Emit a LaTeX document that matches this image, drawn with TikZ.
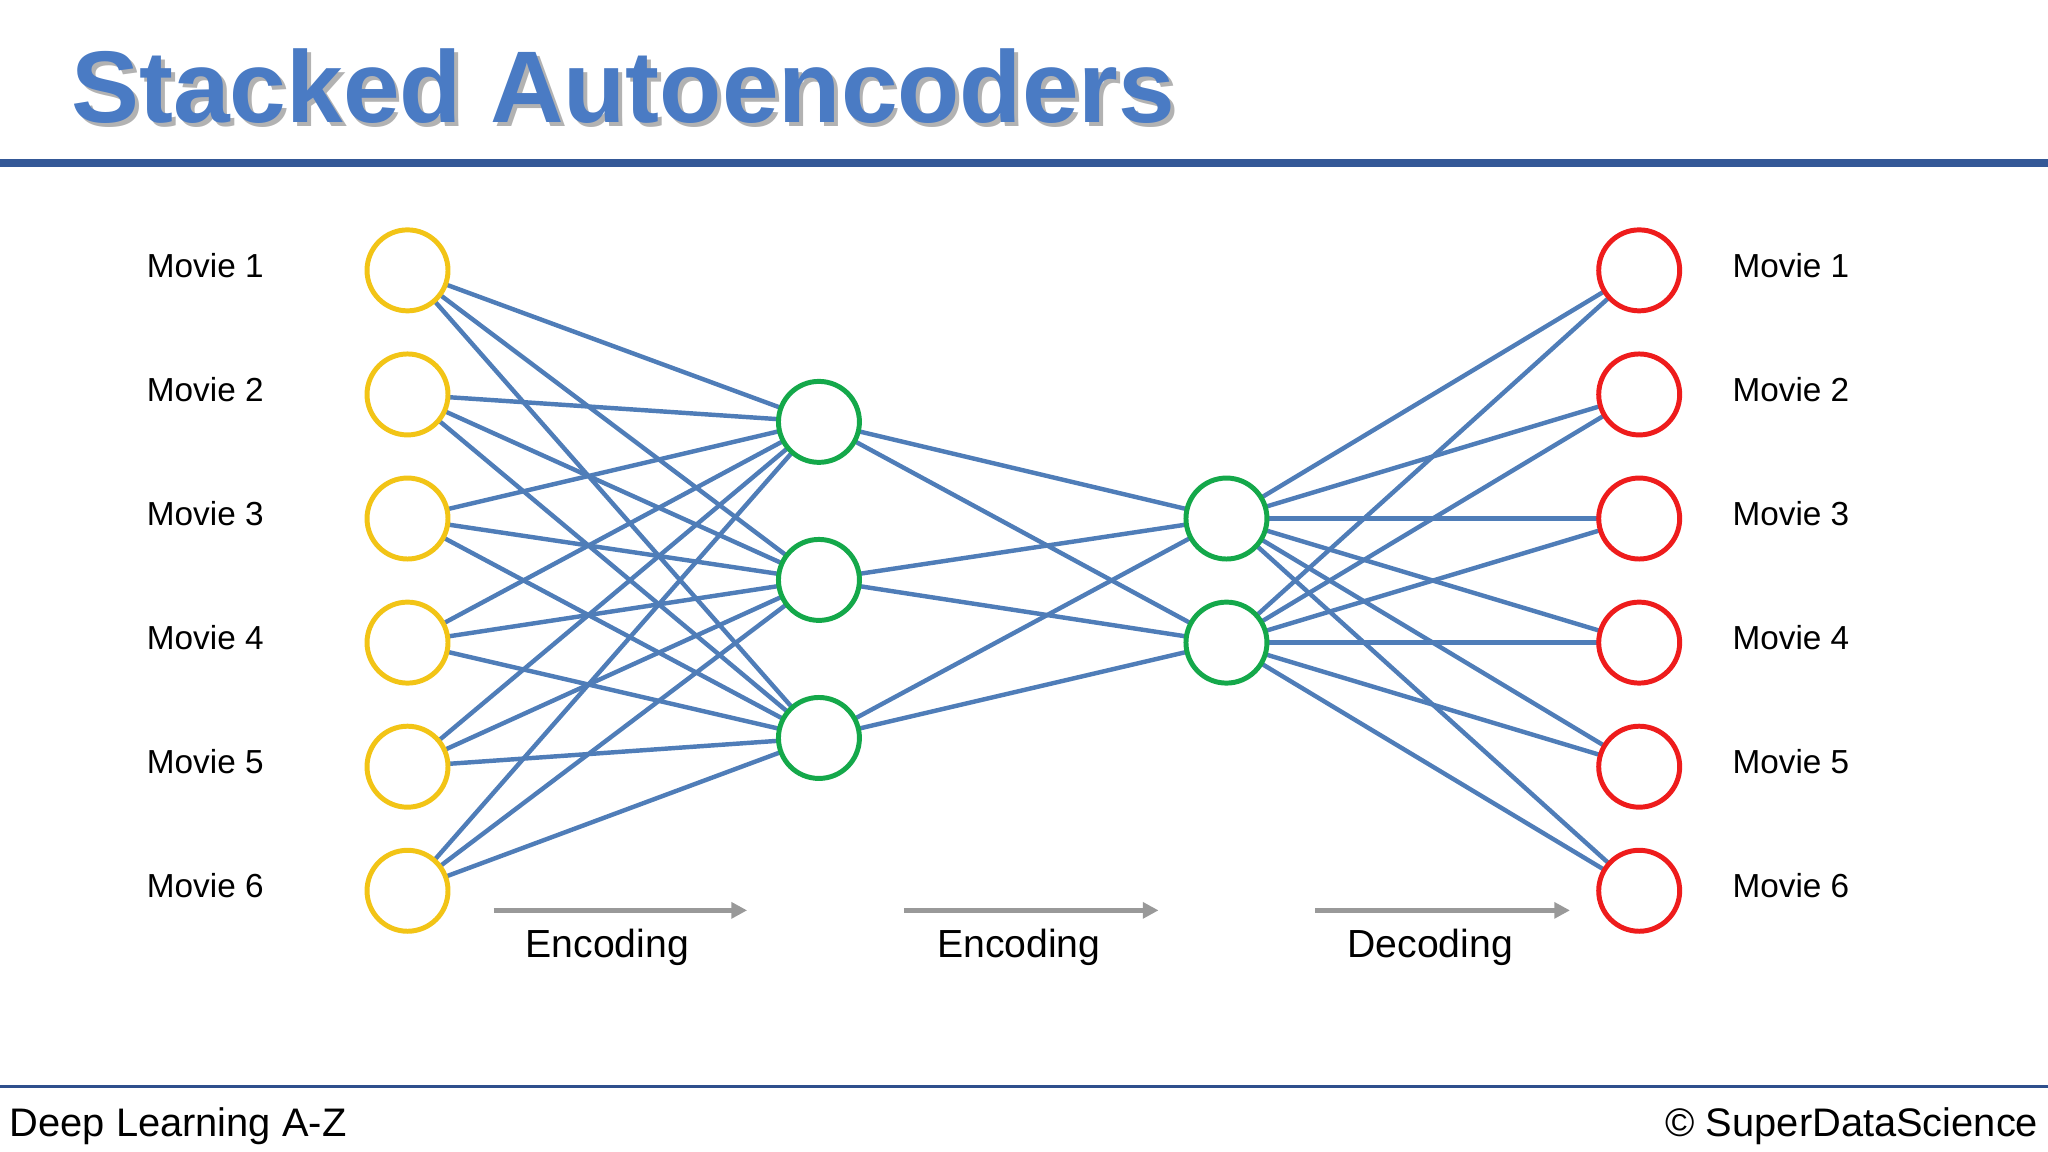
\documentclass[tikz,border=0pt]{standalone}
\usepackage{fontspec}
\setmainfont{Liberation Sans}
\usetikzlibrary{arrows.meta}
\definecolor{tblue}{HTML}{4A7BC4}
\definecolor{lblue}{HTML}{4F7DB8}
\definecolor{dblue}{HTML}{2E4F8C}
\definecolor{yel}{HTML}{F2C416}
\definecolor{grn}{HTML}{14A84A}
\definecolor{rd}{HTML}{EE1C1C}
\begin{document}
\begin{tikzpicture}[x=1pt,y=-1pt,
  neuron/.style={circle,draw,line width=3.8pt,fill=white,minimum size=62pt,inner sep=0pt},
  inp/.style={neuron,draw=yel},
  hid/.style={neuron,draw=grn},
  outp/.style={neuron,draw=rd},
  conn/.style={lblue,line width=3.4pt},
  lab/.style={font=\fontsize{25.5}{28}\selectfont},
  flow/.style={draw=gray!80,line width=4pt,-{Triangle[length=12pt,width=12pt]}},
  flowlab/.style={font=\fontsize{30}{34}\selectfont}]
\useasboundingbox (0,0) rectangle (1568,882);
\node[anchor=west,font=\fontsize{78}{84}\bfseries\selectfont,text=gray!60] at (54,69) {Stacked Autoencoders};
\node[anchor=west,font=\fontsize{78}{84}\bfseries\selectfont,text=tblue] (title) at (51,66) {Stacked Autoencoders};
\draw[dblue!80!tblue,line width=6pt] (0,125) -- (1568,125);
\draw[dblue,line width=2.5pt] (0,832) -- (1568,832);
\node[anchor=west,font=\fontsize{30.5}{34}\selectfont] (ft1) at (4,862) {Deep Learning A-Z};
\node[anchor=east,font=\fontsize{30.5}{34}\selectfont] (ft2) at (1564,862) {© SuperDataScience};
\foreach \i/\y in {1/207,2/302,3/397,4/492,5/587,6/682}{
  \coordinate (pi\i) at (312,\y);
  \coordinate (po\i) at (1255,\y);
}
\coordinate (pa1) at (627,323);\coordinate (pa2) at (627,444);\coordinate (pa3) at (627,565);
\coordinate (pb1) at (939,397);\coordinate (pb2) at (939,492);
\foreach \i in {1,...,6}{\foreach \j in {1,2,3}{\draw[conn] (pi\i) -- (pa\j);}}
\foreach \i in {1,2,3}{\foreach \j in {1,2}{\draw[conn] (pa\i) -- (pb\j);}}
\foreach \i in {1,2}{\foreach \j in {1,...,6}{\draw[conn] (pb\i) -- (po\j);}}
\foreach \i in {1,...,6}{
  \node[inp] (i\i) at (pi\i) {};
  \node[outp] (o\i) at (po\i) {};
}
\foreach \i/\y in {1/203,2/298,3/393,4/488,5/583,6/678}{
  \node[lab,anchor=west] (ll\i) at (109,\y) {Movie \i};
  \node[lab,anchor=west] (lr\i) at (1323,\y) {Movie \i};
}
\foreach \j in {1,2,3}{\node[hid] (a\j) at (pa\j) {};}
\foreach \j in {1,2}{\node[hid] (b\j) at (pb\j) {};}
\coordinate (s1) at (378,697);\coordinate (e1) at (572,697);
\coordinate (s2) at (692,697);\coordinate (e2) at (887,697);
\coordinate (s3) at (1007,697);\coordinate (e3) at (1202,697);
\draw[flow] (s1) -- (e1);\draw[flow] (s2) -- (e2);\draw[flow] (s3) -- (e3);
\node[flowlab] (f1) at (465,725) {Encoding};
\node[flowlab] (f2) at (780,725) {Encoding};
\node[flowlab] (f3) at (1095,725) {Decoding};
\end{tikzpicture}
\end{document}
